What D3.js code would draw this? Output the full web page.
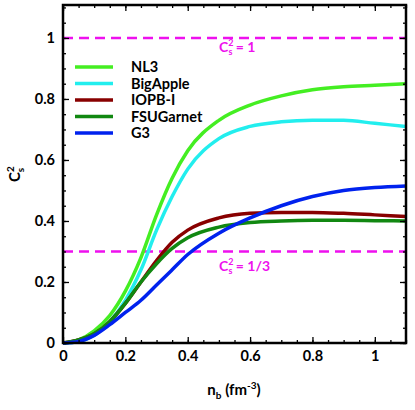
<!DOCTYPE html><html><head><meta charset="utf-8"><script src="https://cdn.jsdelivr.net/npm/d3@7"></script>
<style>body{margin:0;background:#fff}text{font-family:Lato,sans-serif;font-weight:bold}</style></head><body><svg id="c" width="415" height="410"></svg>
<script>
const xs=[0,0.05,0.1,0.15,0.2,0.25,0.3,0.35,0.4,0.5,0.6,0.7,0.8,0.9,1.0,1.1];
const nl3=[0,0.01,0.04,0.09,0.17,0.28,0.42,0.54,0.63,0.73,0.78,0.81,0.83,0.84,0.845,0.85];
const bigApple=[0,0.005,0.025,0.07,0.14,0.24,0.37,0.48,0.57,0.67,0.71,0.725,0.73,0.73,0.72,0.71];
const iopb=[0,0.01,0.03,0.07,0.13,0.2,0.27,0.33,0.37,0.41,0.425,0.428,0.428,0.425,0.42,0.415];
const fsu=[0,0.01,0.03,0.07,0.13,0.2,0.26,0.31,0.345,0.38,0.395,0.4,0.402,0.402,0.401,0.4];
const g3=[0,0.005,0.025,0.06,0.1,0.14,0.19,0.24,0.29,0.36,0.41,0.45,0.48,0.5,0.51,0.515];
const names=["NL3","BigApple","IOPB-I","FSUGarnet","G3"];
const colors=["#44ee22","#22eeee","#880000","#118811","#0022ee"];
const series=[nl3,bigApple,iopb,fsu,g3];
const xTicks=[0,0.2,0.4,0.6,0.8,1],yTicks=[0,0.2,0.4,0.6,0.8,1];
const svg=d3.select("#c");
const x=d3.scaleLinear().domain([0,1.1]).range([63,406]);
const y=d3.scaleLinear().domain([0,1.108]).range([343,5]);
const g=svg.append("g");
const line=d3.line().x((d,i)=>x(xs[i])).y(d=>y(d)).curve(d3.curveMonotoneX);
[1,0.3].forEach(v=>g.append("line").attr("x1",x(0)).attr("x2",x(1.1)).attr("y1",y(v)).attr("y2",y(v)).attr("stroke","#ee11ee").attr("stroke-width",2.5).attr("stroke-dasharray","10,6"));
[[1,"1",0.5,0.955],[0.3,"1/3",0.5,0.235]].forEach(([v,t,tx,ty])=>{const tt=g.append("text").attr("x",x(tx)).attr("y",y(ty)).attr("fill","#ee11ee").attr("font-size",14);
tt.append("tspan").text("C");tt.append("tspan").attr("font-size",9).attr("dy",-6).text("2");tt.append("tspan").attr("font-size",9).attr("dx",-5).attr("dy",9).text("s");tt.append("tspan").attr("dy",-3).text(" = "+t);});
series.forEach((s,i)=>g.append("path").attr("d",line(s)).attr("fill","none").attr("stroke",colors[i]).attr("stroke-width",3.5));
names.forEach((n,i)=>{const yy=67+i*16.5;g.append("line").attr("x1",75).attr("x2",113).attr("y1",yy).attr("y2",yy).attr("stroke",colors[i]).attr("stroke-width",3.5);
g.append("text").attr("x",131).attr("y",yy+5).attr("font-size",14.5).text(n);});
const fmt=d=>d===0?"0":String(d);
const ax=(sc,ticks,minor,ori,tr)=>{const a=ori(sc).tickValues(ticks).tickSize(-6).tickPadding(8).tickFormat(fmt);
const gg=svg.append("g").attr("transform",tr).call(a);gg.selectAll("text").attr("font-size",14.5).attr("fill","#000");gg.select(".domain").remove();
svg.append("g").attr("transform",tr).call(ori(sc).tickValues(minor).tickSize(-3).tickFormat("")).select(".domain").remove();return gg;};
const xm=d3.range(0,1.1001,0.05),ym=d3.range(0,1.1001,0.05);
ax(x,xTicks,xm,d3.axisBottom,"translate(0,343)");
svg.append("g").attr("transform","translate(0,5)").call(d3.axisTop(x).tickValues(xTicks).tickSize(-6).tickFormat("")).select(".domain").remove();
svg.append("g").attr("transform","translate(0,5)").call(d3.axisTop(x).tickValues(xm).tickSize(-3).tickFormat("")).select(".domain").remove();
ax(y,yTicks,ym,d3.axisLeft,"translate(63,0)");
svg.append("g").attr("transform","translate(406,0)").call(d3.axisRight(y).tickValues(yTicks).tickSize(-6).tickFormat("")).select(".domain").remove();
svg.append("g").attr("transform","translate(406,0)").call(d3.axisRight(y).tickValues(ym).tickSize(-3).tickFormat("")).select(".domain").remove();
svg.selectAll(".tick line").attr("stroke-width",1.3);
svg.append("rect").attr("x",63).attr("y",5).attr("width",343).attr("height",338).attr("fill","none").attr("stroke","#000").attr("stroke-width",2.5);
const xl=svg.append("text").attr("x",234).attr("y",395).attr("text-anchor","middle").attr("font-size",15);
xl.append("tspan").text("n");xl.append("tspan").attr("font-size",10).attr("dy",4).text("b");xl.append("tspan").attr("dy",-4).text(" (fm");xl.append("tspan").attr("font-size",10).attr("dy",-6).text("-3");xl.append("tspan").attr("dy",6).text(")");
const yl=svg.append("text").attr("transform","translate(20,174) rotate(-90)").attr("text-anchor","middle").attr("font-size",15);
yl.append("tspan").text("C");yl.append("tspan").attr("font-size",10).attr("dy",-6).text("2");yl.append("tspan").attr("font-size",10).attr("dx",-6).attr("dy",10).text("s");
</script></body></html>
